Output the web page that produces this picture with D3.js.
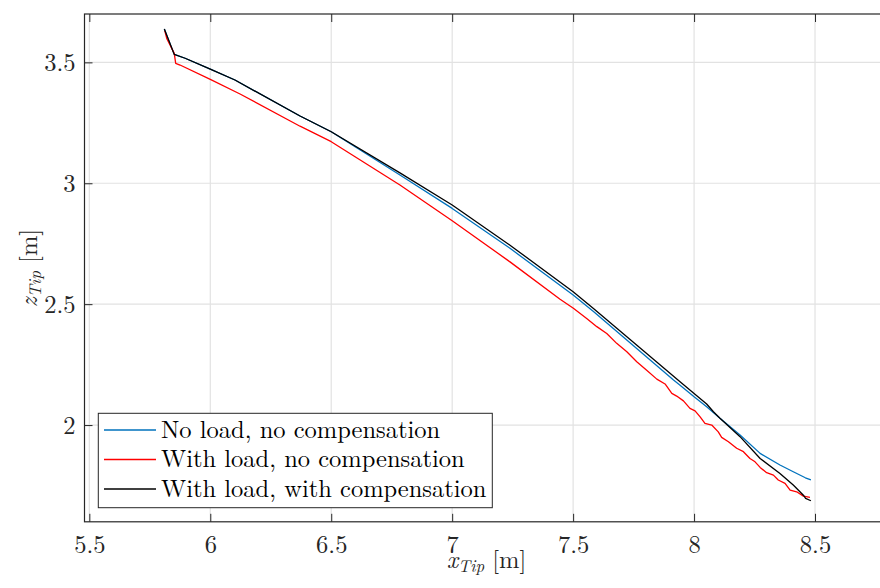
<!DOCTYPE html>
<html>
<head>
<meta charset="utf-8">
<script src="https://cdn.jsdelivr.net/npm/d3@7"></script>
<style>
  html, body { margin: 0; padding: 0; background: #fff; }
</style>
</head>
<body>
<div id="chart"></div>
<script>
// tick values / labels
const xTicks = [5.5, 6, 6.5, 7, 7.5, 8, 8.5];
const xTickLabels = ["5.5", "6", "6.5", "7", "7.5", "8", "8.5"];
const yTicks = [2, 2.5, 3, 3.5];
const yTickLabels = ["2", "2.5", "3", "3.5"];

// series names
const seriesNames = ["No load, no compensation", "With load, no compensation", "With load, with compensation"];

// No load, no compensation
const noLoadX = [5.810, 5.851, 5.896, 6.000, 6.102, 6.371, 6.500, 6.784, 7.000, 7.239, 7.500, 7.584, 7.915, 7.942, 8.000, 8.052, 8.107, 8.190, 8.273, 8.355, 8.410, 8.460, 8.483];
const noLoadZ = [3.638, 3.533, 3.517, 3.472, 3.427, 3.278, 3.213, 3.034, 2.896, 2.731, 2.538, 2.470, 2.186, 2.165, 2.117, 2.076, 2.028, 1.959, 1.883, 1.835, 1.807, 1.782, 1.773];

// With load, no compensation
const loadX = [5.812, 5.820, 5.851, 5.857, 5.875, 6.000, 6.123, 6.371, 6.500, 6.784, 7.000, 7.239, 7.446, 7.501, 7.556, 7.598, 7.639, 7.680, 7.722, 7.763, 7.804, 7.846, 7.880, 7.908, 7.928, 7.956, 7.983, 8.004, 8.025, 8.045, 8.073, 8.100, 8.114, 8.142, 8.176, 8.204, 8.231, 8.252, 8.273, 8.300, 8.328, 8.348, 8.376, 8.397, 8.424, 8.452, 8.479];
const loadZ = [3.630, 3.599, 3.537, 3.496, 3.489, 3.430, 3.369, 3.236, 3.172, 2.993, 2.845, 2.675, 2.520, 2.483, 2.441, 2.407, 2.379, 2.338, 2.303, 2.262, 2.227, 2.190, 2.170, 2.131, 2.120, 2.100, 2.069, 2.059, 2.034, 2.007, 2.000, 1.972, 1.949, 1.931, 1.904, 1.890, 1.862, 1.848, 1.825, 1.803, 1.793, 1.773, 1.759, 1.731, 1.724, 1.706, 1.701];

// With load, with compensation
const compX = [5.810, 5.851, 5.896, 6.000, 6.102, 6.371, 6.500, 6.784, 7.000, 7.239, 7.500, 7.584, 7.942, 8.000, 8.052, 8.080, 8.107, 8.190, 8.273, 8.355, 8.410, 8.452, 8.461, 8.483];
const compZ = [3.638, 3.533, 3.517, 3.472, 3.427, 3.278, 3.213, 3.043, 2.910, 2.744, 2.551, 2.482, 2.179, 2.131, 2.087, 2.055, 2.028, 1.952, 1.862, 1.800, 1.752, 1.710, 1.697, 1.687];

const FONT = "'Latin Modern Roman', 'Liberation Serif'";
const FS = "24.5px";

function chart() {
    const width = 880;
    const height = 588;
    const left = 84.5, top = 14, right = 887.6, bottom = 521.8;

    const x = d3.scaleLinear().domain([5.48, 8.8]).range([left, right]);
    const y = d3.scaleLinear().domain([1.6, 3.7]).range([bottom, top]);

    const colors = ["#0072BD", "#FF0000", "#000000"];
    const series = [
        noLoadX.map((v, i) => [v, noLoadZ[i]]),
        loadX.map((v, i) => [v, loadZ[i]]),
        compX.map((v, i) => [v, compZ[i]])
    ];

    const svg = d3.create("svg")
        .attr("width", width)
        .attr("height", height)
        .attr("viewBox", [0, 0, width, height]);

    svg.append("rect").attr("width", width).attr("height", height).attr("fill", "#fff");

    svg.append("defs").append("clipPath").attr("id", "plot-clip")
      .append("rect")
        .attr("x", left).attr("y", top)
        .attr("width", right - left).attr("height", bottom - top);

    // grid
    const grid = svg.append("g")
        .attr("stroke", "#e2e2e2")
        .attr("stroke-width", 1.2);
    grid.selectAll(".gx").data(xTicks).join("line")
        .attr("x1", d => x(d)).attr("x2", d => x(d))
        .attr("y1", top).attr("y2", bottom);
    grid.selectAll(".gy").data(yTicks).join("line")
        .attr("x1", left).attr("x2", right)
        .attr("y1", d => y(d)).attr("y2", d => y(d));

    // data lines
    const line = d3.line().x(d => x(d[0])).y(d => y(d[1]));
    svg.append("g")
        .attr("clip-path", "url(#plot-clip)")
        .attr("fill", "none")
      .selectAll("path")
      .data(series)
      .join("path")
        .attr("stroke", (d, i) => colors[i])
        .attr("stroke-width", 1.3)
        .attr("stroke-linejoin", "round")
        .attr("d", line);

    // axes (ticks point inward, on all four sides)
    const fmtX = (d, i) => xTickLabels[i];
    const fmtY = (d, i) => yTickLabels[i];

    const xAxis = svg.append("g")
        .attr("transform", `translate(0,${bottom})`)
        .call(d3.axisBottom(x).tickValues(xTicks).tickFormat(fmtX).tickSizeInner(-8).tickSizeOuter(0).tickPadding(0));
    xAxis.selectAll("text")
        .attr("y", 31.5)
        .attr("dy", 0);

    svg.append("g")
        .attr("transform", `translate(0,${top})`)
        .call(d3.axisTop(x).tickValues(xTicks).tickFormat("").tickSizeInner(-8).tickSizeOuter(0));

    const yAxis = svg.append("g")
        .attr("transform", `translate(${left},0)`)
        .call(d3.axisLeft(y).tickValues(yTicks).tickFormat(fmtY).tickSizeInner(-8).tickSizeOuter(0).tickPadding(0));
    yAxis.selectAll("text")
        .attr("x", -9)
        .attr("dy", "0.34em");

    svg.selectAll(".domain").remove();
    svg.selectAll(".tick line").attr("stroke", "#262626").attr("stroke-width", 1);
    svg.selectAll(".tick text")
        .attr("fill", "#262626")
        .style("font-family", FONT)
        .style("font-size", FS);

    // box
    svg.append("rect")
        .attr("x", left).attr("y", top)
        .attr("width", right - left).attr("height", bottom - top)
        .attr("fill", "none")
        .attr("stroke", "#262626")
        .attr("stroke-width", 1.2);

    // axis labels
    const xl = svg.append("text")
        .attr("x", 486.5).attr("y", 568)
        .attr("text-anchor", "middle")
        .attr("fill", "#262626")
        .style("font-family", FONT)
        .style("font-size", FS);
    xl.append("tspan").style("font-style", "italic").text("x");
    xl.append("tspan").style("font-style", "italic").style("font-size", "17px").attr("dy", 4).text("Tip");
    xl.append("tspan").attr("dy", -4).text(" [m]");

    const yl = svg.append("text")
        .attr("transform", "translate(37,268) rotate(-90)")
        .attr("text-anchor", "middle")
        .attr("fill", "#262626")
        .style("font-family", FONT)
        .style("font-size", FS);
    yl.append("tspan").style("font-style", "italic").text("z");
    yl.append("tspan").style("font-style", "italic").style("font-size", "17px").attr("dy", 4).text("Tip");
    yl.append("tspan").attr("dy", -4).text(" [m]");

    // legend
    const legend = svg.append("g");
    legend.append("rect")
        .attr("x", 98.3).attr("y", 413.3)
        .attr("width", 394).attr("height", 94.4)
        .attr("fill", "#fff")
        .attr("stroke", "#262626")
        .attr("stroke-width", 1);
    const rows = legend.selectAll("g.row")
      .data(seriesNames)
      .join("g")
        .attr("transform", (d, i) => `translate(0,${430 + i * 29.5})`);
    rows.append("line")
        .attr("x1", 104).attr("x2", 156)
        .attr("stroke", (d, i) => colors[i])
        .attr("stroke-width", 1.3);
    rows.append("text")
        .attr("x", 161).attr("y", 7.5)
        .attr("fill", "#000")
        .style("font-family", FONT)
        .style("font-size", FS)
        .text(d => d);

    return svg.node();
}

d3.select("#chart").append(() => chart());
</script>
</body>
</html>
